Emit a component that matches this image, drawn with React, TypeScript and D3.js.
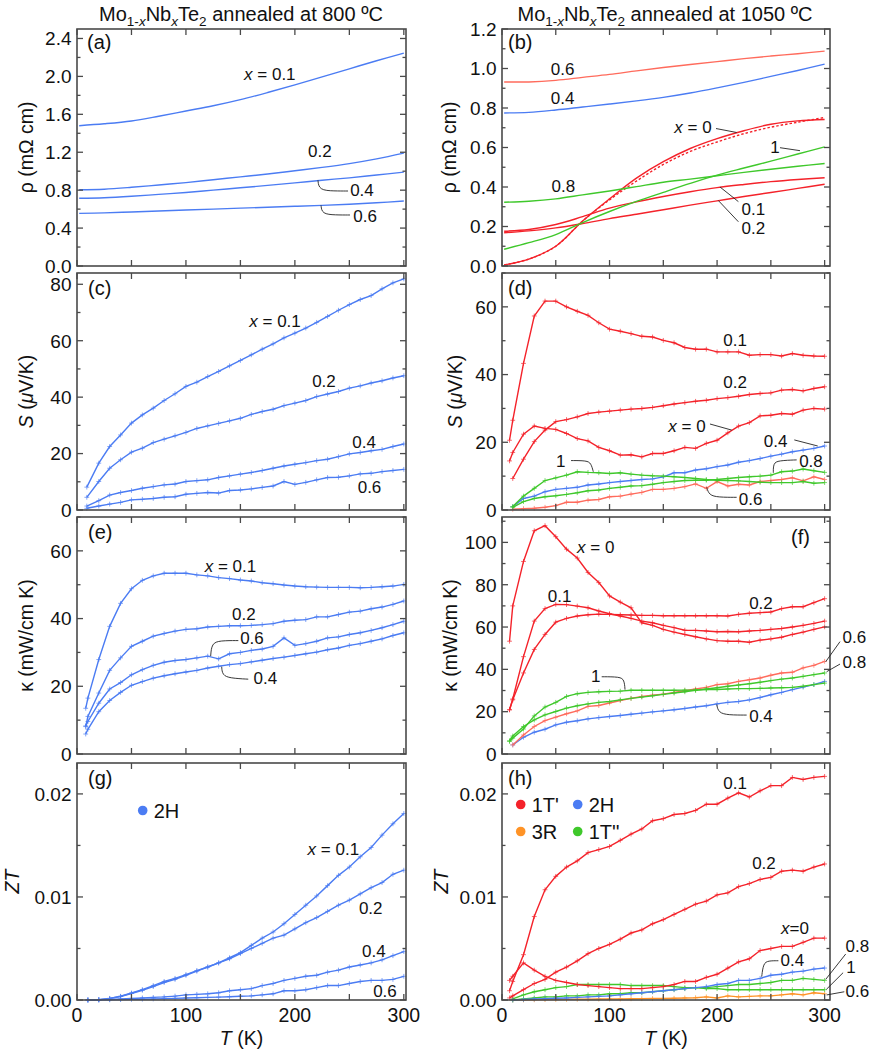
import type { ReactNode } from 'react'
import { scaleLinear, line, curveCatmullRom, curveLinear, curveBasis } from 'd3'

// Mo1-xNbxTe2: ρ, S, κ, ZT against T for the two annealing temperatures.

// temperature grids (K)
const T_SMOOTH = [2, 25, 50, 75, 100, 125, 150, 175, 200, 225, 250, 275, 300]
const T_C = [9, 20, 30, 40, 50, 60, 70, 80, 90, 100, 110, 120, 130, 140, 150, 160, 170, 180, 190, 200, 210, 220, 230, 240, 250, 260, 270, 280, 290, 300]
const T_E = [8, 10, 20, 30, 40, 50, 60, 70, 80, 90, 100, 110, 120, 130, 140, 150, 160, 170, 180, 190, 200, 210, 220, 230, 240, 250, 260, 270, 280, 290, 300]
const T_G = [10, 20, 30, 40, 50, 60, 70, 80, 90, 100, 110, 120, 130, 140, 150, 160, 170, 180, 190, 200, 210, 220, 230, 240, 250, 260, 270, 280, 290, 300]
const T_R = [7, 10, 20, 30, 40, 50, 60, 70, 80, 90, 100, 110, 120, 130, 140, 150, 160, 170, 180, 190, 200, 210, 220, 230, 240, 250, 260, 270, 280, 290, 300]
const T_R10 = [10, 20, 30, 40, 50, 60, 70, 80, 90, 100, 110, 120, 130, 140, 150, 160, 170, 180, 190, 200, 210, 220, 230, 240, 250, 260, 270, 280, 290, 300]

// (a) ρ, 800 ºC (mΩ cm)
const R_800_01 = [1.48, 1.5, 1.53, 1.58, 1.635, 1.69, 1.755, 1.83, 1.91, 1.995, 2.08, 2.165, 2.245]
const R_800_02 = [0.805, 0.81, 0.83, 0.855, 0.88, 0.91, 0.94, 0.97, 1.005, 1.04, 1.08, 1.13, 1.19]
const R_800_04 = [0.715, 0.72, 0.735, 0.755, 0.775, 0.8, 0.825, 0.85, 0.877, 0.905, 0.93, 0.96, 0.99]
const R_800_06 = [0.555, 0.56, 0.57, 0.58, 0.59, 0.6, 0.61, 0.62, 0.63, 0.64, 0.652, 0.667, 0.685]

// (b) ρ, 1050 ºC
const R_1050_06 = [0.932, 0.932, 0.94, 0.955, 0.97, 0.988, 1.005, 1.02, 1.035, 1.05, 1.063, 1.075, 1.088]
const R_1050_04 = [0.775, 0.778, 0.79, 0.805, 0.82, 0.836, 0.854, 0.876, 0.902, 0.93, 0.96, 0.99, 1.022]
const R_1050_0 = [0.005, 0.035, 0.1, 0.228, 0.34, 0.445, 0.528, 0.595, 0.645, 0.685, 0.718, 0.735, 0.742]
const R_1050_0_DOT = [0.005, 0.035, 0.1, 0.228, 0.335, 0.43, 0.514, 0.58, 0.628, 0.67, 0.703, 0.728, 0.752]
const R_1050_01 = [0.176, 0.185, 0.21, 0.25, 0.293, 0.325, 0.352, 0.376, 0.397, 0.413, 0.427, 0.438, 0.447]
const R_1050_02 = [0.168, 0.178, 0.193, 0.215, 0.24, 0.262, 0.285, 0.308, 0.33, 0.352, 0.372, 0.393, 0.414]
const R_1050_08 = [0.323, 0.328, 0.34, 0.36, 0.38, 0.402, 0.424, 0.44, 0.457, 0.474, 0.49, 0.505, 0.519]
const R_1050_1 = [0.085, 0.118, 0.159, 0.22, 0.276, 0.327, 0.373, 0.418, 0.46, 0.496, 0.531, 0.567, 0.603]

// (c) S, 800 ºC (μV/K)
const S_800_01 = [8.1, 16.6, 22.5, 26.6, 30.8, 33.7, 36.1, 38.8, 41.2, 43.8, 45.3, 47.3, 49.1, 51.1, 53.0, 55.0, 57.0, 58.9, 61.0, 62.7, 64.5, 66.5, 68.6, 70.8, 72.8, 74.6, 76.0, 78.4, 80.5, 81.9]
const S_800_02 = [4.5, 10.1, 14.8, 17.8, 20.5, 21.9, 23.9, 25.1, 26.3, 27.5, 28.9, 29.8, 30.7, 31.6, 32.5, 33.9, 34.9, 35.7, 37.0, 37.9, 38.8, 40.2, 41.1, 42.0, 43.2, 44.0, 45.0, 45.8, 46.8, 47.6]
const S_800_04 = [1.4, 3.3, 5.3, 6.2, 6.9, 7.7, 8.3, 8.9, 9.2, 10.1, 10.4, 10.7, 11.5, 12.1, 12.7, 13.3, 14.0, 14.8, 15.6, 16.2, 16.8, 17.5, 18.0, 18.9, 19.9, 20.4, 21.0, 21.5, 22.5, 23.4]
const S_800_06 = [0.6, 1.4, 2.1, 2.7, 3.6, 3.8, 4.1, 4.5, 4.7, 5.6, 5.9, 6.2, 6.0, 6.9, 7.1, 7.5, 8.0, 8.5, 10.1, 9.1, 9.8, 10.7, 11.5, 11.6, 12.1, 12.8, 13.0, 13.6, 14.0, 14.4]

// (d) S, 1050 ºC
const S_1050_0 = [14.5, 17.0, 22.4, 24.8, 24.1, 23.8, 22.6, 21.1, 20.4, 18.5, 17.5, 16.2, 16.3, 15.7, 16.7, 16.7, 17.5, 18.5, 18.2, 19.7, 20.6, 22.8, 24.8, 25.8, 27.8, 28.0, 28.5, 28.3, 29.5, 30.0, 29.8]
const S_1050_01 = [20.6, 26.5, 43.3, 57.3, 61.7, 61.7, 60.0, 58.7, 57.5, 55.3, 53.4, 52.8, 52.1, 51.3, 51.1, 50.1, 49.4, 48.0, 47.5, 47.5, 46.7, 46.7, 46.7, 45.7, 45.9, 45.9, 45.5, 46.2, 45.7, 45.5, 45.4]
const S_1050_02 = [9.3, 15.0, 20.2, 23.6, 26.1, 26.7, 27.5, 28.5, 28.9, 29.2, 29.5, 29.8, 30.0, 30.3, 30.8, 31.3, 31.7, 32.1, 32.4, 32.9, 33.2, 33.6, 34.1, 34.4, 34.6, 35.4, 35.6, 35.2, 35.9, 36.4]
const S_1050_04 = [1.0, 3.4, 4.1, 5.4, 6.1, 6.4, 6.7, 7.4, 7.7, 8.1, 8.4, 8.7, 9.0, 9.2, 9.8, 11.0, 11.0, 11.8, 12.2, 12.8, 13.3, 14.1, 14.6, 15.2, 15.9, 16.5, 17.2, 17.7, 18.2, 18.9]
const S_1050_06 = [0.2, 0.4, 0.5, 0.8, 1.3, 2.3, 2.3, 2.9, 3.1, 3.9, 4.1, 4.7, 5.2, 6.1, 6.1, 6.4, 6.9, 7.7, 6.4, 8.4, 7.1, 7.6, 7.4, 8.4, 8.7, 9.0, 9.5, 8.6, 9.8, 9.0]
const S_1050_08 = [0.8, 2.5, 3.4, 3.9, 4.2, 4.6, 5.1, 5.7, 5.9, 6.4, 6.7, 7.1, 7.2, 7.6, 8.1, 8.4, 8.7, 8.8, 8.8, 9.0, 9.3, 9.6, 9.8, 10.0, 10.3, 11.3, 11.5, 12.1, 11.6, 11.1]
const S_1050_1 = [1.0, 4.1, 6.4, 8.7, 9.5, 10.3, 11.3, 11.1, 11.0, 10.8, 11.0, 10.6, 10.3, 10.1, 10.0, 9.8, 9.6, 9.3, 9.0, 8.8, 8.7, 8.6, 8.4, 8.2, 8.1, 8.1, 8.1, 8.4, 7.9, 8.1]

// (e) κ, 800 ºC (mW/cm K)
const K_800_01 = [13.5, 16.5, 27.9, 37.7, 44.5, 48.8, 51.3, 52.6, 53.4, 53.4, 53.4, 52.9, 52.6, 52.1, 51.8, 51.4, 51.1, 50.6, 50.3, 49.9, 49.6, 49.4, 49.3, 49.2, 49.2, 49.2, 49.1, 49.2, 49.4, 49.6, 50.1]
const K_800_02 = [8.1, 11.1, 18.0, 24.7, 28.4, 31.8, 33.3, 34.8, 35.6, 36.3, 36.8, 37.0, 37.5, 37.7, 37.9, 37.9, 38.0, 38.2, 38.5, 39.2, 39.5, 39.7, 40.5, 40.5, 41.2, 41.9, 42.2, 42.9, 43.4, 44.2, 45.2]
const K_800_06 = [8.3, 9.6, 15.0, 19.2, 21.1, 23.4, 24.9, 26.2, 27.1, 27.6, 27.9, 28.4, 28.9, 28.1, 29.6, 30.0, 30.6, 31.0, 31.8, 34.3, 32.1, 32.6, 33.3, 34.3, 34.6, 35.3, 35.8, 36.5, 37.3, 38.2, 39.2]
const K_800_04 = [5.9, 7.3, 12.5, 15.8, 18.2, 20.3, 21.4, 22.4, 23.1, 23.7, 24.2, 24.7, 25.4, 25.9, 26.4, 26.7, 27.2, 27.7, 28.2, 28.6, 29.1, 29.6, 30.1, 30.8, 31.3, 32.1, 32.6, 33.3, 34.0, 35.0, 35.8]

// (f) κ, 1050 ºC
const K_1050_0 = [53.3, 70.0, 91.0, 105.5, 107.9, 102.7, 96.8, 92.6, 85.8, 81.0, 74.7, 71.8, 69.1, 62.0, 60.8, 58.9, 57.6, 56.5, 55.4, 54.4, 53.6, 53.3, 53.3, 52.8, 53.8, 54.4, 55.2, 56.5, 57.6, 58.9, 60.1]
const K_1050_01 = [20.9, 26.0, 46.0, 62.8, 68.7, 70.7, 70.6, 69.9, 69.1, 67.6, 66.3, 65.2, 64.1, 62.8, 62.0, 60.8, 59.7, 58.5, 58.4, 58.1, 57.8, 57.9, 57.8, 58.1, 58.4, 58.9, 59.3, 60.0, 60.8, 61.7, 62.8]
const K_1050_02 = [20.9, 25.6, 38.3, 49.4, 56.5, 62.3, 64.1, 65.2, 65.8, 66.1, 66.0, 65.8, 65.7, 65.5, 65.5, 65.3, 65.3, 65.3, 65.3, 65.3, 65.3, 65.2, 66.0, 66.5, 66.8, 67.1, 68.7, 69.6, 69.6, 71.5, 73.4]
const K_1050_1 = [5.9, 7.5, 11.8, 18.0, 22.2, 24.4, 27.2, 28.5, 29.1, 29.4, 29.6, 29.7, 30.1, 30.1, 30.1, 30.1, 30.1, 30.2, 30.2, 30.4, 30.5, 30.7, 30.9, 30.9, 31.0, 31.2, 31.3, 31.5, 32.0, 32.8, 33.5]
const K_1050_08 = [6.3, 8.5, 13.0, 16.1, 18.5, 20.1, 21.7, 22.8, 23.7, 24.4, 24.8, 25.6, 26.3, 26.9, 27.5, 28.2, 28.8, 29.4, 30.1, 30.7, 31.3, 32.0, 32.6, 33.2, 33.9, 34.7, 35.4, 35.9, 36.7, 37.5, 38.3]
const K_1050_06 = [4.3, 9.0, 13.0, 15.8, 17.4, 19.0, 20.4, 22.5, 22.9, 24.1, 25.3, 26.3, 27.2, 27.8, 28.3, 29.1, 29.9, 30.7, 31.5, 32.8, 33.2, 34.3, 35.1, 35.9, 37.2, 38.3, 38.6, 40.7, 41.9, 43.8]
const K_1050_04 = [4.3, 7.9, 10.3, 11.7, 13.8, 15.0, 15.7, 16.6, 17.2, 17.7, 18.2, 18.8, 19.3, 19.9, 20.4, 20.9, 21.5, 22.2, 22.8, 23.7, 24.4, 24.8, 25.6, 26.7, 28.0, 29.1, 30.4, 31.6, 32.8, 34.3]

// (g) ZT, 800 ºC
const Z_800_01 = [0, 0.00003, 0.00016, 0.00036, 0.00068, 0.001, 0.0014, 0.0018, 0.0021, 0.00246, 0.00285, 0.0032, 0.0036, 0.0041, 0.0046, 0.0053, 0.006, 0.0066, 0.0074, 0.0083, 0.0092, 0.0101, 0.0111, 0.0121, 0.0129, 0.0139, 0.0148, 0.016, 0.0171, 0.0181]
const Z_800_02 = [0, 0.00003, 0.00015, 0.00034, 0.00063, 0.00095, 0.0013, 0.0017, 0.002, 0.0024, 0.0028, 0.0032, 0.0036, 0.004, 0.0045, 0.005, 0.0055, 0.006, 0.0063, 0.0069, 0.0075, 0.008, 0.0086, 0.0092, 0.0097, 0.0103, 0.0109, 0.0114, 0.0122, 0.0126]
const Z_800_04 = [0, 0.00001, 0.00006, 0.0001, 0.00015, 0.0002, 0.00025, 0.0003, 0.00038, 0.0005, 0.00055, 0.0006, 0.0007, 0.0009, 0.001, 0.0011, 0.0014, 0.0016, 0.0019, 0.0021, 0.0023, 0.0024, 0.0027, 0.0029, 0.0032, 0.0034, 0.0036, 0.0039, 0.0043, 0.0047]
const Z_800_06 = [0, 0.00001, 0.00002, 0.00004, 0.00006, 0.00008, 0.0001, 0.00013, 0.00016, 0.0002, 0.00022, 0.00025, 0.00028, 0.00032, 0.00036, 0.0004, 0.0005, 0.0006, 0.0009, 0.0009, 0.001, 0.0012, 0.0014, 0.0014, 0.0016, 0.0018, 0.0019, 0.0019, 0.002, 0.0023]

// (h) ZT, 1050 ºC
const Z_1050_01 = [0.0009, 0.0018, 0.0044, 0.0081, 0.0107, 0.012, 0.0129, 0.0135, 0.0143, 0.0146, 0.0149, 0.0155, 0.0161, 0.0166, 0.0174, 0.0176, 0.018, 0.0181, 0.0184, 0.019, 0.019, 0.0196, 0.0201, 0.0197, 0.0203, 0.0208, 0.0208, 0.0216, 0.0214, 0.0216, 0.0217]
const Z_1050_0 = [0.0019, 0.0023, 0.0036, 0.0029, 0.0023, 0.0019, 0.0017, 0.0015, 0.0014, 0.0013, 0.0012, 0.0011, 0.0011, 0.0011, 0.0012, 0.0013, 0.0015, 0.0018, 0.0018, 0.0022, 0.0025, 0.0031, 0.0037, 0.004, 0.0048, 0.005, 0.0052, 0.0052, 0.0056, 0.006, 0.006]
const Z_1050_02 = [0.0002, 0.0004, 0.001, 0.0016, 0.002, 0.0027, 0.0032, 0.0038, 0.0045, 0.005, 0.0054, 0.0059, 0.0065, 0.0068, 0.0074, 0.0078, 0.0083, 0.0088, 0.0093, 0.0096, 0.0102, 0.0104, 0.011, 0.0113, 0.0117, 0.0119, 0.0125, 0.0126, 0.0125, 0.0129, 0.0132]
const Z_1050_04 = [0, 0.00005, 0.0001, 0.00013, 0.00017, 0.0002, 0.00025, 0.0003, 0.00035, 0.0004, 0.0005, 0.0006, 0.0007, 0.0008, 0.0009, 0.001, 0.0011, 0.0012, 0.0013, 0.0015, 0.0016, 0.0019, 0.0019, 0.0021, 0.0024, 0.0025, 0.0027, 0.0028, 0.003, 0.0031]
const Z_1050_08 = [0, 0.0001, 0.0002, 0.0003, 0.0003, 0.0004, 0.0004, 0.0005, 0.0005, 0.0006, 0.0006, 0.0007, 0.0007, 0.0008, 0.0009, 0.001, 0.0011, 0.0012, 0.0012, 0.0013, 0.0014, 0.0015, 0.0015, 0.0016, 0.0017, 0.0019, 0.0019, 0.0021, 0.002, 0.0019]
const Z_1050_1 = [0.0001, 0.0005, 0.0008, 0.001, 0.0012, 0.0013, 0.0015, 0.0015, 0.0015, 0.0015, 0.0015, 0.0014, 0.0014, 0.0014, 0.0014, 0.0013, 0.0012, 0.0012, 0.0011, 0.0011, 0.001, 0.001, 0.001, 0.001, 0.001, 0.001, 0.001, 0.001, 0.001, 0.001]
const Z_1050_06 = [0, 0, 0.00002, 0.00004, 0.00005, 0.00006, 0.00007, 0.00008, 0.00009, 0.0001, 0.0001, 0.00012, 0.00013, 0.00014, 0.00015, 0.00017, 0.0002, 0.00022, 0.0003, 0.0002, 0.0004, 0.0003, 0.00035, 0.0004, 0.0004, 0.0005, 0.0006, 0.0005, 0.0007, 0.0006]

const X_TICKS = [0, 50, 100, 150, 200, 250, 300]
const X_LABELS = [0, 100, 200, 300]

const BLUE = '#4b7cf3'
const RED = '#f4222a'
const GREEN = '#3fc82b'
const SALMON = '#ff6b5c'
const ORANGE = '#ff9326'
const INK = '#111'
const FRAME = '#4a4a4a'
const FONT = 'Liberation Sans, Arial, Helvetica, sans-serif'

const COLS = [
  { left: 77, right: 406, tMax: 302 },
  { left: 502, right: 830, tMax: 305 },
]
const ROW_TOP = [29, 273, 517, 763]
const ROW_H = 237

type Series = { t: number[]; v: number[]; color: string; markers?: boolean; dash?: string }
type Note = { text: string; t: number; v: number; leader?: [number, number][] }
type Legend = { color: string; label: string; dx: number; dy: number }
interface PanelCfg {
  col: 0 | 1
  row: number
  yMax: number
  yStep: number
  yMinor: number
  yDigits: number
  yTitle: ReactNode
  yTitleX: number
  smooth?: boolean
  series: Series[]
  notes: Note[]
  tag: string
  tagDx: number
  tagDy: number
  tagEnd?: boolean
  legend?: Legend[]
}

const italic = (s: string) => <tspan fontStyle="italic">{s}</tspan>
const RHO_TITLE = <>ρ (mΩ cm)</>
const S_TITLE = <>{italic('S')}{' ('}{italic('μ')}{'V/K)'}</>
const K_TITLE = <>κ (mW/cm K)</>
const ZT_TITLE = <>{italic('ZT')}</>

const mk = (t: number[], v: number[], color: string, extra: Partial<Series> = {}): Series => ({ t, v, color, markers: true, ...extra })

const PANELS: PanelCfg[] = [
  {
    col: 0, row: 0, yMax: 2.5, yStep: 0.4, yMinor: 0.2, yDigits: 1, yTitle: RHO_TITLE, yTitleX: 33, smooth: true,
    tag: '(a)', tagDx: 10, tagDy: 20,
    series: [
      { t: T_SMOOTH, v: R_800_01, color: BLUE },
      { t: T_SMOOTH, v: R_800_02, color: BLUE },
      { t: T_SMOOTH, v: R_800_04, color: BLUE },
      { t: T_SMOOTH, v: R_800_06, color: BLUE },
    ],
    notes: [
      { text: 'x = 0.1', t: 177, v: 1.96 },
      { text: '0.2', t: 223, v: 1.153 },
      { text: '0.4', t: 261.6, v: 0.738, leader: [[248.8, 0.791], [236, 0.791], [222.1, 0.8], [221.2, 0.905]] },
      { text: '0.6', t: 264.4, v: 0.467, leader: [[250.6, 0.538], [237, 0.538], [224.9, 0.549], [224, 0.64]] },
    ],
  },
  {
    col: 1, row: 0, yMax: 1.2, yStep: 0.2, yMinor: 0.1, yDigits: 1, yTitle: RHO_TITLE, yTitleX: 456, smooth: true,
    tag: '(b)', tagDx: 6, tagDy: 20,
    series: [
      { t: T_SMOOTH, v: R_1050_06, color: SALMON },
      { t: T_SMOOTH, v: R_1050_04, color: BLUE },
      { t: T_SMOOTH, v: R_1050_0_DOT, color: RED, dash: '2.5,2' },
      { t: T_SMOOTH, v: R_1050_0, color: RED },
      { t: T_SMOOTH, v: R_1050_01, color: RED },
      { t: T_SMOOTH, v: R_1050_02, color: RED },
      { t: T_SMOOTH, v: R_1050_08, color: GREEN },
      { t: T_SMOOTH, v: R_1050_1, color: GREEN },
    ],
    notes: [
      { text: '0.6', t: 56.3, v: 0.967 },
      { text: '0.4', t: 56.3, v: 0.819 },
      { text: 'x = 0', t: 177.6, v: 0.675, leader: [[199, 0.696], [218.2, 0.676]] },
      { text: '1', t: 253.9, v: 0.571, leader: [[258.5, 0.599], [277.1, 0.584]] },
      { text: '0.8', t: 57, v: 0.376 },
      { text: '0.1', t: 233.7, v: 0.258, leader: [[219.8, 0.326], [202.7, 0.4]] },
      { text: '0.2', t: 233.7, v: 0.162, leader: [[219.8, 0.224], [201.1, 0.332]] },
    ],
  },
  {
    col: 0, row: 1, yMax: 84, yStep: 20, yMinor: 10, yDigits: 0, yTitle: S_TITLE, yTitleX: 33,
    tag: '(c)', tagDx: 11, tagDy: 22,
    series: [
      mk(T_C, S_800_01, BLUE), mk(T_C, S_800_02, BLUE), mk(T_C, S_800_04, BLUE), mk(T_C, S_800_06, BLUE),
    ],
    notes: [
      { text: 'x = 0.1', t: 181.8, v: 65 },
      { text: '0.2', t: 226.7, v: 43.7 },
      { text: '0.4', t: 263.5, v: 21.9 },
      { text: '0.6', t: 268.5, v: 5.9 },
    ],
  },
  {
    col: 1, row: 1, yMax: 70, yStep: 20, yMinor: 10, yDigits: 0, yTitle: S_TITLE, yTitleX: 462,
    tag: '(d)', tagDx: 6, tagDy: 22,
    series: [
      mk(T_R10, S_1050_06, SALMON),
      mk(T_R10, S_1050_04, BLUE),
      mk(T_R10, S_1050_08, GREEN),
      mk(T_R10, S_1050_1, GREEN),
      mk(T_R, S_1050_0, RED),
      mk(T_R, S_1050_01, RED),
      mk(T_R10, S_1050_02, RED),
    ],
    notes: [
      { text: '0.1', t: 216.7, v: 48.5 },
      { text: '0.2', t: 216.7, v: 35.9 },
      { text: 'x = 0', t: 172, v: 23.1, leader: [[193.4, 25.4], [213.6, 23.6]] },
      { text: '0.4', t: 254.5, v: 18.7, leader: [[271.8, 20.7], [293.6, 18.9]] },
      { text: '1', t: 54.7, v: 12.8, leader: [[64.2, 14.6], [78.8, 14.6], [82.8, 13.8], [84.9, 11.3]] },
      { text: '0.8', t: 287.3, v: 12.8, leader: [[274, 14.8], [257, 14.6], [252.3, 13.8], [252.3, 11.0]] },
      { text: '0.6', t: 231.2, v: 1.5, leader: [[218.2, 3.75], [201.1, 3.75], [192.5, 4.4], [190.4, 6.7]] },
    ],
  },
  {
    col: 0, row: 2, yMax: 70, yStep: 20, yMinor: 10, yDigits: 0, yTitle: K_TITLE, yTitleX: 33,
    tag: '(e)', tagDx: 11, tagDy: 22,
    series: [
      mk(T_E, K_800_01, BLUE), mk(T_E, K_800_02, BLUE), mk(T_E, K_800_06, BLUE), mk(T_E, K_800_04, BLUE),
    ],
    notes: [
      { text: 'x = 0.1', t: 140.9, v: 53.8 },
      { text: '0.2', t: 153.1, v: 39.6 },
      { text: '0.6', t: 160.6, v: 32.4, leader: [[148.1, 33.5], [131.3, 33.5], [123.6, 32.7], [122.7, 28.9]] },
      { text: '0.4', t: 172.9, v: 20.6, leader: [[157.2, 22.1], [140.4, 22.4], [133.4, 23.3], [132.8, 25.8]] },
    ],
  },
  {
    col: 1, row: 2, yMax: 112, yStep: 20, yMinor: 10, yDigits: 0, yTitle: K_TITLE, yTitleX: 457,
    tag: '(f)', tagDx: 20, tagDy: 27, tagEnd: true,
    series: [
      mk(T_R10, K_1050_04, BLUE),
      mk(T_R10, K_1050_06, SALMON),
      mk(T_R, K_1050_08, GREEN),
      mk(T_R, K_1050_1, GREEN),
      mk(T_R, K_1050_02, RED),
      mk(T_R, K_1050_01, RED),
      mk(T_R, K_1050_0, RED),
    ],
    notes: [
      { text: 'x = 0', t: 87.2, v: 94.8 },
      { text: '0.1', t: 53.6, v: 72 },
      { text: '0.2', t: 240.8, v: 68.4 },
      { text: '0.6', t: 327.6, v: 52.3, leader: [[314.3, 53.1], [301, 43.6]] },
      { text: '0.8', t: 327.6, v: 40.5, leader: [[314.3, 42.5], [301.9, 38.9]] },
      { text: '1', t: 87.1, v: 34.2, leader: [[92.7, 36.5], [109.7, 36.5], [113.7, 35], [114.4, 30.4]] },
      { text: '0.4', t: 240.8, v: 15.3, leader: [[227.5, 18.4], [210.5, 18.4], [201.2, 19.5], [199.7, 23.4]] },
    ],
  },
  {
    col: 0, row: 3, yMax: 0.023, yStep: 0.01, yMinor: 0.005, yDigits: 2, yTitle: ZT_TITLE, yTitleX: 19,
    tag: '(g)', tagDx: 11, tagDy: 22,
    legend: [{ color: BLUE, label: '2H', dx: 65.7, dy: 47.5 }],
    series: [
      mk(T_G, Z_800_06, BLUE), mk(T_G, Z_800_04, BLUE), mk(T_G, Z_800_02, BLUE), mk(T_G, Z_800_01, BLUE),
    ],
    notes: [
      { text: 'x = 0.1', t: 235.3, v: 0.01412 },
      { text: '0.2', t: 269.6, v: 0.00836 },
      { text: '0.4', t: 272.5, v: 0.00422 },
      { text: '0.6', t: 282.7, v: 0.00027 },
    ],
  },
  {
    col: 1, row: 3, yMax: 0.023, yStep: 0.01, yMinor: 0.005, yDigits: 2, yTitle: ZT_TITLE, yTitleX: 448,
    tag: '(h)', tagDx: 6, tagDy: 22,
    legend: [
      { color: RED, label: "1T'", dx: 18.7, dy: 41.5 },
      { color: BLUE, label: '2H', dx: 75.7, dy: 41.5 },
      { color: ORANGE, label: '3R', dx: 18.7, dy: 68.5 },
      { color: GREEN, label: "1T''", dx: 75.7, dy: 68.5 },
    ],
    series: [
      mk(T_R10, Z_1050_06, ORANGE),
      mk(T_R10, Z_1050_1, GREEN),
      mk(T_R10, Z_1050_08, GREEN),
      mk(T_R10, Z_1050_04, BLUE),
      mk(T_R, Z_1050_0, RED),
      mk(T_R, Z_1050_02, RED),
      mk(T_R, Z_1050_01, RED),
    ],
    notes: [
      { text: '0.1', t: 216.7, v: 0.02045 },
      { text: '0.2', t: 243.6, v: 0.01268 },
      { text: 'x=0', t: 272.5, v: 0.0064 },
      { text: '0.4', t: 270, v: 0.0033, leader: [[257, 0.00381], [247.6, 0.00381], [243, 0.00356], [241.5, 0.00226]] },
      { text: '0.8', t: 330.4, v: 0.00469, leader: [[319.6, 0.00446], [301, 0.002]] },
      { text: '1', t: 324.5, v: 0.00259, leader: [[317.2, 0.00265], [301.7, 0.00104]] },
      { text: '0.6', t: 330.4, v: 0.00032, leader: [[318.3, 0.0008], [301.9, 0.00049]] },
    ],
  },
]

function NoteText({ n, x, y }: { n: Note; x: number; y: number }) {
  const isX = n.text.startsWith('x')
  return (
    <text x={x} y={y} textAnchor="middle" fontSize={17} fill={INK}>
      {isX ? <>{italic('x')}{n.text.slice(1)}</> : n.text}
    </text>
  )
}

function Panel({ cfg }: { cfg: PanelCfg }) {
  const col = COLS[cfg.col]
  const top = ROW_TOP[cfg.row]
  const bottom = top + ROW_H
  const x = scaleLinear().domain([0, col.tMax]).range([col.left, col.right])
  const y = scaleLinear().domain([0, cfg.yMax]).range([bottom, top])
  const path = line<[number, number]>()
    .x((d) => x(d[0]))
    .y((d) => y(d[1]))
    .curve(cfg.smooth ? curveCatmullRom.alpha(0.5) : curveLinear)

  const nMinor = Math.floor(cfg.yMax / cfg.yMinor + 1e-6)
  const yTicks = Array.from({ length: nMinor + 1 }, (_, i) => {
    const v = i * cfg.yMinor
    const r = v / cfg.yStep
    return { v, major: Math.abs(r - Math.round(r)) < 1e-6 }
  })
  const midY = (top + bottom) / 2

  return (
    <g>
      {/* data */}
      {cfg.series.map((s, i) => {
        const pts = s.t.map((t, j) => [t, s.v[j]] as [number, number])
        return (
          <g key={i}>
            <path d={path(pts) ?? ''} fill="none" stroke={s.color} strokeWidth={1.4} strokeDasharray={s.dash} />
            {s.markers &&
              pts.map(([t, v], j) => {
                const px = x(t)
                const py = y(v)
                return (
                  <path key={j} d={`M${px - 2.4},${py}H${px + 2.4}M${px},${py - 2.4}V${py + 2.4}`} stroke={s.color} strokeWidth={0.9} opacity={0.75} />
                )
              })}
          </g>
        )
      })}

      {/* frame and ticks */}
      <rect x={col.left} y={top} width={col.right - col.left} height={ROW_H} fill="none" stroke={FRAME} strokeWidth={1.6} />
      {yTicks.map(({ v, major }) => {
        const py = y(v)
        const len = major ? 6 : 3.5
        return (
          <g key={v}>
            <line x1={col.left} x2={col.left + len} y1={py} y2={py} stroke={FRAME} strokeWidth={1.3} />
            <line x1={col.right} x2={col.right - len} y1={py} y2={py} stroke={FRAME} strokeWidth={1.3} />
            {major && (
              <text x={col.left - 5.5} y={py + 6.8} textAnchor="end" fontSize={19} fill={INK}>
                {v.toFixed(cfg.yDigits)}
              </text>
            )}
          </g>
        )
      })}
      {X_TICKS.map((t) => (
        <g key={t}>
          <line x1={x(t)} x2={x(t)} y1={bottom} y2={bottom - 6} stroke={FRAME} strokeWidth={1.3} />
          <line x1={x(t)} x2={x(t)} y1={top} y2={top + 6} stroke={FRAME} strokeWidth={1.3} />
        </g>
      ))}
      {cfg.row === 3 && (
        <>
          {X_LABELS.map((t) => (
            <text key={t} x={x(t)} y={1022} textAnchor="middle" fontSize={19.5} fill={INK}>
              {t}
            </text>
          ))}
          <text x={(col.left + col.right) / 2} y={1045} textAnchor="middle" fontSize={19.5} fill={INK}>
            {italic('T')} (K)
          </text>
        </>
      )}

      {/* y title */}
      <text transform={`translate(${cfg.yTitleX},${midY}) rotate(-90)`} textAnchor="middle" fontSize={19.5} fill={INK}>
        {cfg.yTitle}
      </text>

      {/* panel tag */}
      <text
        x={cfg.tagEnd ? col.right - cfg.tagDx : col.left + cfg.tagDx}
        y={top + cfg.tagDy}
        textAnchor={cfg.tagEnd ? 'end' : 'start'}
        fontSize={20}
        fill={INK}
      >
        {cfg.tag}
      </text>

      {/* legend */}
      {cfg.legend?.map((l) => (
        <g key={l.label}>
          <circle cx={col.left + l.dx} cy={top + l.dy} r={4.8} fill={l.color} />
          <text x={col.left + l.dx + 11} y={top + l.dy + 7} fontSize={20} fill={INK}>
            {l.label}
          </text>
        </g>
      ))}

      {/* curve labels and leaders */}
      {cfg.notes.map((n) => (
        <g key={n.text + n.t}>
          {n.leader && (
            <path
              d={
                line<[number, number]>()
                  .x((d) => x(d[0]))
                  .y((d) => y(d[1]))
                  .curve(n.leader.length > 2 ? curveBasis : curveLinear)(n.leader) ?? ''
              }
              fill="none"
              stroke="#222"
              strokeWidth={0.9}
            />
          )}
          <NoteText n={n} x={x(n.t)} y={y(n.v)} />
        </g>
      ))}
    </g>
  )
}

function Title({ cx, temp }: { cx: number; temp: string }) {
  return (
    <text x={cx} y={21} textAnchor="middle" fontSize={20} fill={INK}>
      Mo
      <tspan dy={5} fontSize={13.5}>1-</tspan>
      <tspan fontSize={13.5} fontStyle="italic">x</tspan>
      <tspan dy={-5}>Nb</tspan>
      <tspan dy={5} fontSize={13.5} fontStyle="italic">x</tspan>
      <tspan dy={-5}>Te</tspan>
      <tspan dy={5} fontSize={13.5}>2</tspan>
      <tspan dy={-5}>{` annealed at ${temp} ºC`}</tspan>
    </text>
  )
}

export default function App() {
  return (
    <svg
      width={871}
      height={1054}
      viewBox="0 0 871 1054"
      style={{ position: 'absolute', left: 0, top: 0, background: '#fff' }}
      fontFamily={FONT}
    >
      <rect width={871} height={1054} fill="#fff" />
      <Title cx={241} temp="800" />
      <Title cx={665} temp="1050" />
      {PANELS.map((p) => (
        <Panel key={p.tag} cfg={p} />
      ))}
    </svg>
  )
}
